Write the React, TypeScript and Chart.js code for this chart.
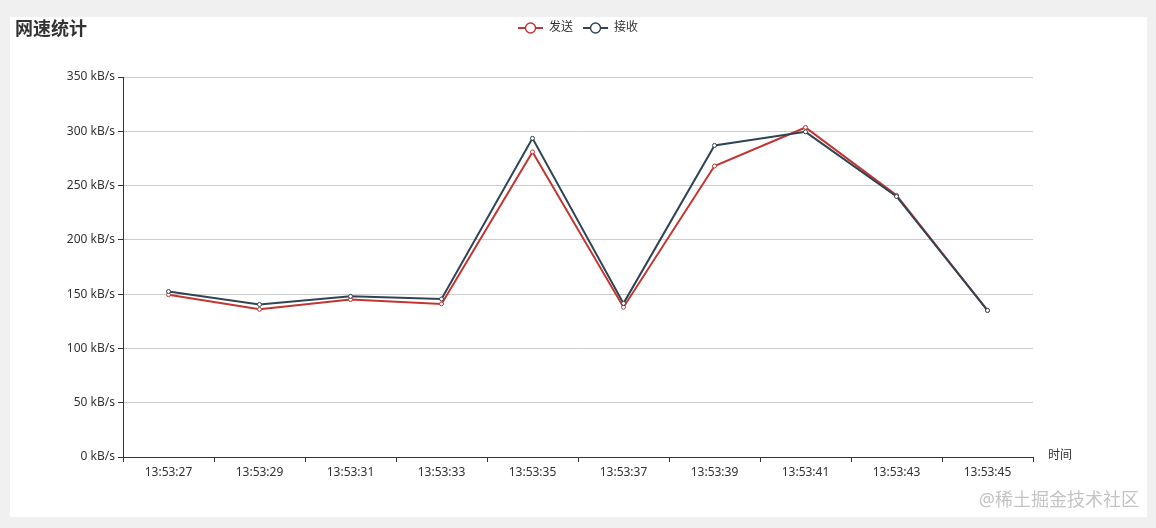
import React, { useEffect, useRef } from "react";
import { Chart, registerables } from "chart.js";

Chart.register(...registerables);

const titleText = "网速统计";
const xAxisName = "时间";
const watermarkText = "@稀土掘金技术社区";
const categories = [
  "13:53:27",
  "13:53:29",
  "13:53:31",
  "13:53:33",
  "13:53:35",
  "13:53:37",
  "13:53:39",
  "13:53:41",
  "13:53:43",
  "13:53:45",
];
const sendName = "发送";
const recvName = "接收";
const sendValues = [149.5, 136, 145, 141, 281, 138, 268, 303.5, 241, 135];
const recvValues = [152.5, 140.5, 148, 145.5, 293.5, 141.5, 287, 299.5, 240, 135];
const yMin = 0;
const yMax = 350;
const yStep = 50;
const yUnit = " kB/s";

const SEND_COLOR = "#c23531";
const RECV_COLOR = "#2f4554";
const TEXT_COLOR = "#333";
const FONT = "'Microsoft YaHei', 'Noto Sans', 'Noto Sans CJK SC', sans-serif";

function makeLegendIcon(color: string): HTMLCanvasElement {
  const c = document.createElement("canvas");
  c.width = 25;
  c.height = 14;
  const ctx = c.getContext("2d")!;
  ctx.strokeStyle = color;
  ctx.lineWidth = 2;
  ctx.beginPath();
  ctx.moveTo(0, 7);
  ctx.lineTo(25, 7);
  ctx.stroke();
  ctx.beginPath();
  ctx.arc(12.5, 7, 5, 0, Math.PI * 2);
  ctx.fillStyle = "#fff";
  ctx.fill();
  ctx.lineWidth = 1.4;
  ctx.stroke();
  return c;
}

const textPlugin = {
  id: "extraText",
  afterDraw(chart: any) {
    const ctx = chart.ctx;
    const area = chart.chartArea;
    ctx.save();
    ctx.fillStyle = TEXT_COLOR;
    ctx.font = `bold 18px ${FONT}`;
    ctx.textAlign = "left";
    ctx.textBaseline = "middle";
    ctx.fillText(titleText, 15, 30);
    ctx.font = `12px ${FONT}`;
    ctx.fillStyle = TEXT_COLOR;
    ctx.fillText(xAxisName, area.right + 15, area.bottom - 1);
    ctx.font = `18px ${FONT}`;
    ctx.fillStyle = "#c4c4c4";
    ctx.textAlign = "right";
    ctx.fillText(watermarkText, 1139, 501);
    ctx.restore();
  },
};

export default function App() {
  const canvasRef = useRef<HTMLCanvasElement | null>(null);

  useEffect(() => {
    const canvas = canvasRef.current!;
    const icons = [makeLegendIcon(SEND_COLOR), makeLegendIcon(RECV_COLOR)];
    Chart.defaults.font.family = FONT;
    const chart = new Chart(canvas, {
      type: "line",
      data: {
        labels: categories,
        datasets: [
          {
            label: sendName,
            data: sendValues,
            xAxisID: "x",
            yAxisID: "y",
            borderColor: SEND_COLOR,
            backgroundColor: "#fff",
            borderWidth: 2,
            pointRadius: 2,
            pointBorderWidth: 1,
            pointBackgroundColor: "#fff",
            pointBorderColor: SEND_COLOR,
            tension: 0,
            order: 1,
          },
          {
            label: recvName,
            data: recvValues,
            xAxisID: "x",
            yAxisID: "y",
            borderColor: RECV_COLOR,
            backgroundColor: "#fff",
            borderWidth: 2,
            pointRadius: 2,
            pointBorderWidth: 1,
            pointBackgroundColor: "#fff",
            pointBorderColor: RECV_COLOR,
            tension: 0,
            order: 0,
          },
        ],
      },
      options: {
        responsive: false,
        maintainAspectRatio: false,
        animation: false,
        layout: { padding: { top: 12, left: 0, right: 0, bottom: 0 } },
        plugins: {
          title: { display: false },
          tooltip: { enabled: false },
          legend: {
            display: true,
            position: "top",
            align: "center",
            labels: {
              usePointStyle: true,
              pointStyleWidth: 25,
              boxHeight: 12,
              padding: 10,
              color: TEXT_COLOR,
              font: { size: 12, family: FONT },
              sort: (a: any, b: any) => a.datasetIndex - b.datasetIndex,
              generateLabels: (ch: any) => {
                const items = Chart.defaults.plugins.legend.labels.generateLabels(ch);
                items.forEach((it: any) => {
                  it.pointStyle = icons[it.datasetIndex];
                  it.fontColor = TEXT_COLOR;
                });
                return items;
              },
            },
          },
        },
        scales: {
          x: {
            type: "category",
            position: "bottom",
            offset: true,
            grid: {
              display: true,
              drawOnChartArea: false,
              drawTicks: true,
              tickLength: 5,
              tickColor: TEXT_COLOR,
              offset: true,
            },
            border: { display: true, color: TEXT_COLOR, width: 1 },
            ticks: {
              color: TEXT_COLOR,
              font: { size: 12, family: FONT },
              padding: 3,
              maxRotation: 0,
              autoSkip: false,
            },
            afterFit: (s: any) => {
              s.height = 71;
            },
          },
          xTop: {
            type: "category",
            position: "top",
            offset: true,
            display: true,
            grid: { display: false, drawTicks: false },
            border: { display: false },
            ticks: { display: false },
            afterFit: (s: any) => {
              s.height = 33;
            },
          },
          y: {
            type: "linear",
            position: "left",
            min: yMin,
            max: yMax,
            grid: {
              color: "#ccc",
              lineWidth: 1,
              drawTicks: true,
              tickLength: 5,
              tickColor: TEXT_COLOR,
            },
            border: { display: true, color: TEXT_COLOR, width: 1 },
            ticks: {
              stepSize: yStep,
              color: TEXT_COLOR,
              font: { size: 12, family: FONT },
              padding: 3,
              callback: (v: any) => `${v}${yUnit}`,
            },
            afterFit: (s: any) => {
              s.width = 123;
            },
          },
          yRight: {
            type: "linear",
            position: "right",
            display: true,
            min: yMin,
            max: yMax,
            grid: { display: false, drawTicks: false },
            border: { display: false },
            ticks: { display: false },
            afterFit: (s: any) => {
              s.width = 123;
            },
          },
        },
      },
      plugins: [textPlugin],
    } as any);
    return () => chart.destroy();
  }, []);

  return (
    <div
      style={{
        position: "fixed",
        left: 0,
        top: 0,
        width: 1156,
        height: 528,
        background: "#f0f0f0",
        overflow: "hidden",
      }}
    >
      <div
        style={{
          position: "absolute",
          left: 10,
          top: 17,
          width: 1137,
          height: 500,
          background: "#fff",
        }}
      />
      <canvas
        ref={canvasRef}
        width={1156}
        height={528}
        style={{ position: "absolute", left: 0, top: 0, width: 1156, height: 528 }}
      />
    </div>
  );
}
